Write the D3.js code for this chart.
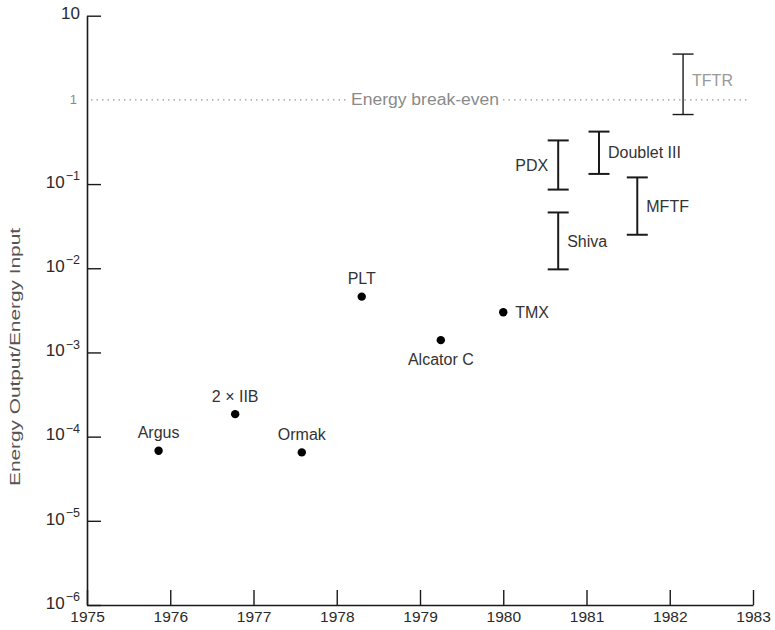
<!DOCTYPE html>
<html>
<head>
<meta charset="utf-8">
<script src="https://cdn.jsdelivr.net/npm/d3@7"></script>
<style>
  html, body { margin: 0; padding: 0; background: #fff; }
  svg { display: block; font-family: "Liberation Sans", Arial, sans-serif; }
</style>
</head>
<body>
<svg id="chart" width="775" height="630"></svg>
<script>
// ---- data ----
const yearTicks = [1975, 1976, 1977, 1978, 1979, 1980, 1981, 1982, 1983];
const decadeTicks = [1e-6, 1e-5, 1e-4, 1e-3, 1e-2, 1e-1, 1, 10];
const decadeLabels = [["10", "-6"], ["10", "-5"], ["10", "-4"], ["10", "-3"], ["10", "-2"], ["10", "-1"], ["1", ""], ["10", ""]];

// achieved experiments (points)
const pointNames = ["Argus", "2 \u00d7 IIB", "Ormak", "PLT", "Alcator C", "TMX"];
const pointYears = [1975.86, 1976.78, 1977.58, 1978.30, 1979.25, 1980.00];
const pointValues = [6.8e-5, 1.85e-4, 6.5e-5, 4.6e-3, 1.4e-3, 3.0e-3];
const pointLabelPos = ["above", "above", "above", "above", "below", "right"];

// projected experiments (ranges)
const rangeNames = ["PDX", "Doublet III", "MFTF", "Shiva", "TFTR"];
const rangeYears = [1980.66, 1981.15, 1981.61, 1980.66, 1982.16];
const rangeLow = [0.086, 0.132, 0.025, 0.0097, 0.67];
const rangeHigh = [0.33, 0.42, 0.12, 0.046, 3.5];
const rangeLabelSide = ["left", "right", "right", "right", "right"];

const breakEven = 1;
const breakEvenLabel = "Energy break-even";
const yAxisTitle = "Energy Output/Energy Input";

// ---- drawing ----
const svg = d3.select("#chart");
const x = d3.scaleLinear().domain([1975, 1983]).range([87, 753]);
const y = d3.scaleLog().domain([1e-6, 10]).range([605, 15.7]);

const ink = "#1a1a1a";
const FONT = "Liberation Sans, Arial, sans-serif";

// x axis
const xAxis = svg.append("g")
  .attr("transform", `translate(0,${y(1e-6)})`)
  .call(d3.axisBottom(x).tickValues(yearTicks).tickFormat(d3.format("d"))
    .tickSizeInner(-15).tickSizeOuter(0).tickPadding(6));
xAxis.select(".domain").attr("stroke", ink).attr("stroke-width", 1.6);
xAxis.selectAll(".tick line").attr("stroke", ink).attr("stroke-width", 1.4);
xAxis.selectAll(".tick text").attr("font-size", 15.5).attr("fill", "#2a2a2a")
  .attr("font-family", FONT);

// y axis
const yAxis = svg.append("g")
  .attr("transform", `translate(${x(1975)},0)`)
  .call(d3.axisLeft(y).tickValues(decadeTicks).tickFormat(() => "")
    .tickSizeInner(-14).tickSizeOuter(0).tickPadding(8));
yAxis.select(".domain").attr("stroke", ink).attr("stroke-width", 1.6);
yAxis.selectAll(".tick line").attr("stroke", ink).attr("stroke-width", 1.4)
  .attr("opacity", d => d === 1 ? 0 : 1);
yAxis.selectAll(".tick").each(function (d) {
  const lab = decadeLabels[decadeTicks.indexOf(d)];
  const t = d3.select(this).append("text")
    .attr("x", -7).attr("dy", "0.32em")
    .attr("text-anchor", "end")
    .attr("font-family", FONT)
    .attr("fill", d === 1 ? "#888" : "#2a2a2a");
  if (lab[1]) {
    t.append("tspan").attr("font-size", 17).text(lab[0]);
    t.append("tspan").attr("font-size", 12.5).attr("dy", "-0.6em").attr("dx", "1").text(lab[1].replace("-", "\u2212"));
  } else {
    t.append("tspan").attr("font-size", d === 1 ? 13 : 17).attr("dx", d === 1 ? -3 : 0).text(lab[0]);
  }
});

// y axis title
svg.append("text")
  .attr("transform", `translate(20,${357}) rotate(-90)`)
  .attr("text-anchor", "middle")
  .attr("font-size", 14.5)
  .attr("fill", "#555")
  .attr("textLength", 258)
  .attr("lengthAdjust", "spacingAndGlyphs")
  .text(yAxisTitle);

// break-even dotted line
const by = y(breakEven);
svg.append("line")
  .attr("x1", x(1975) + 4).attr("x2", 346)
  .attr("y1", by).attr("y2", by)
  .attr("stroke", "#999").attr("stroke-width", 1.3)
  .attr("stroke-dasharray", "1.5,4");
svg.append("line")
  .attr("x1", 503).attr("x2", 748)
  .attr("y1", by).attr("y2", by)
  .attr("stroke", "#999").attr("stroke-width", 1.3)
  .attr("stroke-dasharray", "1.5,4");
svg.append("text")
  .attr("x", 425).attr("y", by).attr("dy", "0.35em")
  .attr("text-anchor", "middle")
  .attr("font-size", 16)
  .attr("fill", "#8a8a8a")
  .attr("textLength", 148)
  .attr("lengthAdjust", "spacingAndGlyphs")
  .text(breakEvenLabel);

// range bars
const capHalf = 10.5;
const ranges = rangeNames.map((n, i) => ({ name: n, year: rangeYears[i], lo: rangeLow[i], hi: rangeHigh[i], side: rangeLabelSide[i] }));
const rg = svg.append("g").selectAll("g").data(ranges).join("g");
rg.each(function (d) {
  const g = d3.select(this);
  const sw = d.name === "TFTR" ? 1.4 : 2;
  const cx = x(d.year);
  g.append("line").attr("x1", cx).attr("x2", cx).attr("y1", y(d.hi)).attr("y2", y(d.lo))
    .attr("stroke", ink).attr("stroke-width", sw);
  [d.hi, d.lo].forEach(v => {
    g.append("line").attr("x1", cx - capHalf).attr("x2", cx + capHalf).attr("y1", y(v)).attr("y2", y(v))
      .attr("stroke", ink).attr("stroke-width", sw);
  });
  const mid = (y(d.hi) + y(d.lo)) / 2;
  g.append("text")
    .attr("x", d.side === "left" ? cx - 10 : cx + 9)
    .attr("y", d.name === "TFTR" ? mid - 4 : mid).attr("dy", "0.35em")
    .attr("text-anchor", d.side === "left" ? "end" : "start")
    .attr("font-size", 16)
    .attr("font-family", FONT)
    .attr("fill", d.name === "TFTR" ? "#999" : "#333")
    .text(d.name);
});

// points
const pts = pointNames.map((n, i) => ({ name: n, year: pointYears[i], v: pointValues[i], pos: pointLabelPos[i] }));
const pg = svg.append("g").selectAll("g").data(pts).join("g");
pg.append("circle")
  .attr("cx", d => x(d.year)).attr("cy", d => y(d.v)).attr("r", 4.2)
  .attr("fill", "#000");
pg.append("text")
  .attr("x", d => d.pos === "right" ? x(d.year) + 12 : x(d.year))
  .attr("y", d => d.pos === "above" ? y(d.v) - 12.5 : d.pos === "below" ? y(d.v) + 25 : y(d.v) + 5.5)
  .attr("text-anchor", d => d.pos === "right" ? "start" : "middle")
  .attr("font-size", 16)
  .attr("font-family", FONT)
  .attr("fill", "#333")
  .text(d => d.name);
</script>
</body>
</html>
